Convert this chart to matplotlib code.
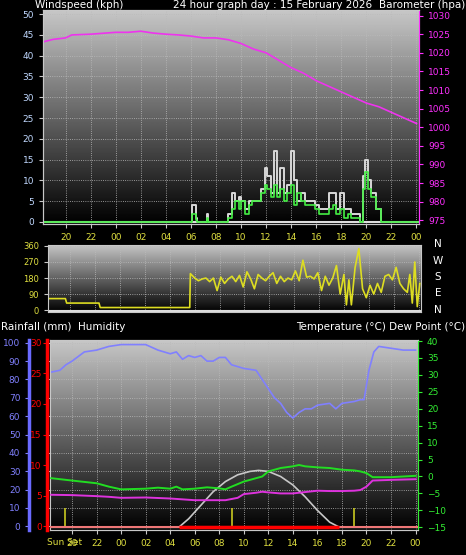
import matplotlib.pyplot as plt
import matplotlib
import numpy as np

matplotlib.rcParams.update({'font.family': 'DejaVu Sans', 'font.size': 6.5})

# hours relative to midnight of 15 Feb (negative = previous evening)
xticks = [-4, -2, 0, 2, 4, 6, 8, 10, 12, 14, 16, 18, 20, 22, 24]
xlabels = ['20', '22', '00', '02', '04', '06', '08', '10', '12', '14', '16', '18', '20', '22', '00']

baro_t = [-5.7, -5, -4, -3.5, -2, 0, 1, 2, 3, 4, 5, 6, 7, 8, 9, 10, 11, 12, 13, 14, 15, 16, 17, 18, 19, 20, 21, 22, 23, 24]
baro_v = [1023, 1023.6, 1024, 1024.8, 1025, 1025.5, 1025.5, 1025.8, 1025.3, 1025, 1024.8, 1024.5, 1024, 1024, 1023.5, 1022.5, 1021, 1020, 1018, 1016, 1014.5, 1012.5, 1011, 1009.5, 1008, 1006.5, 1005.5, 1004, 1002.5, 1001]

wind_t = [-5.7, 6.0, 6.1, 6.4, 6.5, 7.3, 7.4, 7.6, 9.0, 9.3, 9.5, 9.8, 10.0, 10.3, 10.6, 10.9, 11.2, 11.6, 11.9, 12.1, 12.4, 12.6, 12.9, 13.1, 13.4, 13.7, 14.0, 14.2, 14.5, 14.8, 15.1, 15.5, 15.9, 16.2, 16.6, 17.0, 17.3, 17.6, 17.9, 18.2, 18.5, 18.8, 19.2, 19.5, 19.7, 19.9, 20.1, 20.4, 20.8, 21.2, 24.2]
wind_avg = [0, 0, 2, 0.5, 0, 1, 0, 0, 1, 3, 5, 3, 5, 2, 4, 5, 5, 7, 9, 8, 6, 9, 6, 8, 5, 7, 9, 4, 7, 5, 4, 4, 3, 2, 2, 3, 4, 2, 3, 1, 2, 1, 1, 0, 8, 12, 8, 6, 3, 0, 0]
wind_gust = [0, 0, 4, 1, 0, 2, 0, 0, 2, 7, 5, 6, 5, 3, 5, 5, 5, 8, 13, 11, 7, 17, 7, 13, 7, 9, 17, 10, 5, 7, 5, 5, 4, 3, 3, 7, 7, 3, 7, 3, 3, 2, 2, 0, 11, 15, 10, 7, 3, 0, 0]

dir_t = [-5.7, -4.4, -4.3, -1.7, -1.6, 5.6, 5.65, 6.0, 6.3, 6.6, 6.9, 7.2, 7.5, 7.8, 8.1, 8.4, 8.7, 9.0, 9.3, 9.6, 9.9, 10.2, 10.5, 10.8, 11.1, 11.4, 11.7, 12.0, 12.3, 12.6, 12.9, 13.2, 13.5, 13.8, 14.1, 14.4, 14.7, 15.0, 15.3, 15.6, 15.9, 16.2, 16.5, 16.8, 17.1, 17.4, 17.7, 18.0, 18.2, 18.4, 18.6, 18.9, 19.2, 19.5, 19.8, 20.1, 20.4, 20.7, 21.0, 21.3, 21.6, 21.9, 22.2, 22.5, 22.8, 23.1, 23.3, 23.5, 23.7, 23.9, 24.1]
dir_v = [65, 65, 40, 40, 15, 15, 205, 180, 165, 175, 180, 160, 180, 110, 185, 150, 175, 190, 160, 195, 130, 215, 175, 120, 200, 180, 165, 190, 210, 150, 190, 160, 180, 170, 220, 165, 280, 185, 190, 175, 210, 110, 190, 140, 180, 250, 90, 200, 30, 170, 30, 240, 345, 120, 70, 140, 90, 150, 100, 190, 200, 170, 240, 150, 120, 100, 200, 40, 270, 20, 150]

hum_t = [-5.7, -5, -4.5, -4, -3, -2, -1, 0, 1, 2, 3, 4, 4.5, 5, 5.5, 6, 6.5, 7, 7.5, 8, 8.5, 9, 10, 11, 11.5, 12, 12.5, 13, 13.5, 14, 14.5, 15, 15.5, 16, 17, 17.5, 18, 19, 19.5, 19.8, 20.2, 20.6, 21, 22, 23, 24]
hum_v = [84, 85, 88, 90, 95, 96, 98, 99, 99, 99, 96, 94, 95, 91, 93, 92, 93, 90, 90, 92, 92, 88, 86, 85, 80, 75, 70, 67, 62, 59, 62, 64, 64, 66, 67, 64, 67, 68, 69, 69, 85, 95, 98, 97, 96, 96]

temp_t = [-5.7, -4, -2, -1, 0, 2, 3, 4, 4.5, 5, 6, 7, 8, 8.5, 9, 10, 11, 11.5, 12, 12.5, 13, 14, 14.5, 15, 16, 17, 18, 19, 19.5, 20, 20.5, 22, 23, 24]
temp_v = [-0.5, -1.2, -2, -3, -3.8, -3.6, -3.3, -3.6, -3, -3.8, -3.6, -3.2, -3.5, -3.8, -3, -1.5, -0.5, 0, 1.5, 2, 2.5, 3, 3.4, 3, 2.7, 2.5, 2, 1.8, 1.5, 1, -0.2, -0.2, 0, 0.2]

dew_t = [-5.7, -4, -2, -1, 0, 2, 4, 6, 8, 8.5, 9.5, 10, 11, 11.5, 12, 13, 14, 15, 16, 17, 18, 19, 19.5, 20, 20.5, 22, 24]
dew_v = [-5.4, -5.5, -5.8, -6, -6.3, -6.2, -6.5, -7, -7, -7, -6.3, -5.2, -4.8, -4.5, -4.7, -5, -5, -4.6, -4.2, -4.3, -4.3, -4.2, -4, -3, -1.2, -1, -0.8]

solar_t = [-5.7, 4.7, 5.5, 6.5, 7.5, 8.5, 9.5, 10.5, 11.2, 12, 13, 14, 15, 16, 17, 17.8, 24.2]
solar_v = [-15, -15, -12.5, -8.5, -4.5, -1.5, 0.5, 1.5, 1.8, 1.5, 0, -2.5, -6, -10, -13.5, -15, -15]

markers = [-4.6, 9.0, 19.0]

XMIN, XMAX = -5.8, 24.2
W, H = 466, 555
fig = plt.figure(figsize=(W / 100, H / 100), dpi=100, facecolor='black')


def px(l, t, r, b):
    return [l / W, 1 - b / H, (r - l) / W, (b - t) / H]


def style(ax, y0, y1):
    ax.set_facecolor('black')
    grad = np.linspace(0.78, 0.0, 256)[:, None]
    ax.imshow(grad, extent=[XMIN, XMAX, y0, y1], aspect='auto', cmap='gray',
              vmin=0, vmax=1, zorder=0)
    ax.set_xlim(XMIN, XMAX)
    ax.set_ylim(y0, y1)
    for s in ax.spines.values():
        s.set_color('#c8c8c8')
    ax.tick_params(colors='#c8c8c8', labelsize=6.5, length=3)


TFS = 7.5

# ---- wind / barometer ----
ax1 = fig.add_axes(px(43, 10, 419, 224))
style(ax1, -0.5, 51)
ax1.set_xticks(xticks)
ax1.set_xticklabels(xlabels, color='#e0e040')
ax1.set_yticks(range(0, 51, 5))
ax1.tick_params(axis='y', labelcolor='#c0d8ff')
ax1.grid(color='#bbbbbb', ls=':', lw=0.6)
ax1.axhline(0, color='#dddddd', lw=1.5)
ax1.step(wind_t, wind_gust, where='post', color='#d8d8d8', lw=1.4, zorder=3)
ax1.step(wind_t, wind_avg, where='post', color='#44ee44', lw=1.2, zorder=4)
axb = ax1.twinx()
axb.set_ylim(974, 1031.5)
axb.set_yticks(range(975, 1031, 5))
axb.tick_params(colors='#ff30ff', labelsize=6.5, length=3)
axb.plot(baro_t, baro_v, color='#ee33ee', lw=1.2)
for s in axb.spines.values():
    s.set_color('#c8c8c8')
axb.spines['right'].set_color('#ff30ff')

fig.text(35 / W, 1 - 5 / H, 'Windspeed (kph)', color='white', fontsize=TFS, va='center')
fig.text(173 / W, 1 - 5 / H, '24 hour graph day : 15 February 2026', color='white', fontsize=TFS, va='center')
fig.text(465 / W, 1 - 5 / H, 'Barometer (hpa)', color='white', fontsize=TFS, va='center', ha='right')

# ---- wind direction ----
ax2 = fig.add_axes(px(48, 245, 421, 312))
style(ax2, -10, 365)
ax2.set_xticks(xticks)
ax2.set_xticklabels([])
ax2.tick_params(axis='x', length=0)
ax2.set_yticks([0, 90, 180, 270, 360])
ax2.tick_params(axis='y', labelcolor='#e0e040', labelsize=6)
ax2.grid(color='#bbbbbb', ls=':', lw=0.6)
ax2.axhline(-5, color='#dddddd', lw=1.5)
ax2.plot(dir_t, dir_v, color='#dddd22', lw=1.2)
for i, d in enumerate(['N', 'W', 'S', 'E', 'N']):
    fig.text(438 / W, 1 - (244 + i * 16.5) / H, d, color='white', fontsize=TFS, ha='center', va='center')

fig.text(1 / W, 1 - 327 / H, 'Rainfall (mm)  Humidity', color='white', fontsize=TFS, va='center')
fig.text(465 / W, 1 - 327 / H, 'Temperature (\u00b0C) Dew Point (\u00b0C)', color='white', fontsize=TFS, va='center', ha='right')

# ---- temperature / humidity / rain ----
ax3 = fig.add_axes(px(50, 340, 418, 530))
style(ax3, -2, 101.5)
ax3.set_xticks(xticks)
ax3.set_xticklabels(xlabels, color='#e0e040')
ax3.set_yticks(range(0, 101, 10))
ax3.spines['left'].set_visible(False)
ax3.yaxis.set_ticks_position('none')
ax3.set_yticklabels([])
ax3.grid(color='#bbbbbb', ls=':', lw=0.6)
ax3.text(-4.6, -6.5, 'Sun Set', color='#e0e040', fontsize=6.5, ha='center', va='top')
ax3.plot(hum_t, hum_v, color='#8080ff', lw=1.2, zorder=3)
ax3.vlines(markers, 0, 10, color='#c8c820', lw=1.2, zorder=3)

# humidity axis (blue) and rainfall axis (red) on the left
axh = fig.add_axes(px(28, 340, 29, 530))
axh.set_ylim(-2, 101.5)
axh.set_yticks(range(0, 101, 10))
axh.set_xticks([])
axh.tick_params(axis='y', colors='#8080ff', labelsize=6.5, length=2)
for k, s in axh.spines.items():
    s.set_visible(k == 'right')
axh.spines['right'].set_color('#6a6aff')
axh.spines['right'].set_linewidth(2.5)
axh.patch.set_alpha(0)

axr = fig.add_axes(px(46, 340, 47, 530))
axr.set_ylim(-0.6, 30.45)
axr.set_yticks(range(0, 31, 5))
axr.set_xticks([])
axr.tick_params(axis='y', colors='red', labelsize=6.5, length=2, pad=1)
for k, s in axr.spines.items():
    s.set_visible(k == 'right')
axr.spines['right'].set_color('red')
axr.spines['right'].set_linewidth(2.5)
axr.patch.set_alpha(0)

axt = ax3.twinx()
axt.set_ylim(-15.8, 40.3)
axt.set_yticks(range(-15, 41, 5))
axt.tick_params(colors='#33ee33', labelsize=6.5, length=3)
for s in axt.spines.values():
    s.set_color('#c8c8c8')
axt.spines['right'].set_color('#33ee33')
axt.plot(solar_t, solar_v, color='#c8c8c8', lw=1.2, zorder=2)
axt.plot(temp_t, temp_v, color='#22dd22', lw=1.4, zorder=4)
axt.plot(dew_t, dew_v, color='#dd33dd', lw=1.4, zorder=4)
axt.axhline(-15, color='#ee7777', lw=1.5, zorder=3)
axt.hlines(-15, 4.7, 17.8, color='red', lw=2.5, zorder=3)

fig.savefig('out.png', dpi=100, facecolor='black')
